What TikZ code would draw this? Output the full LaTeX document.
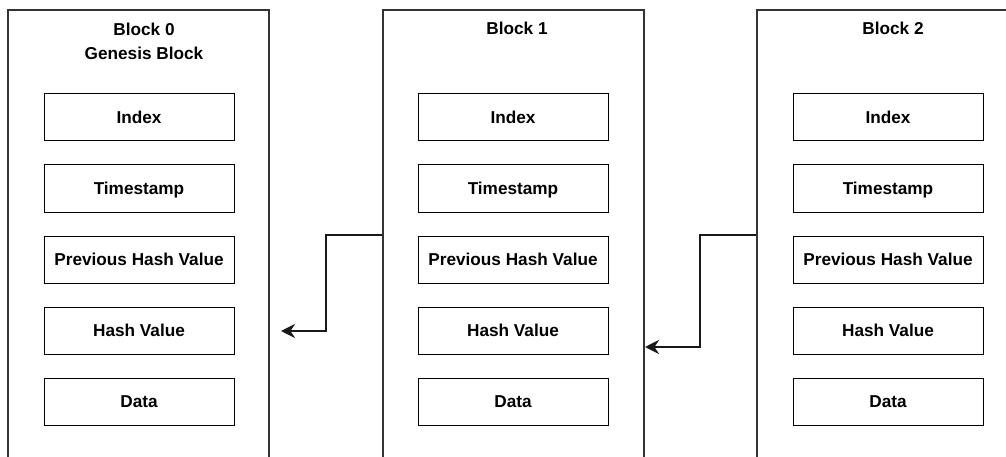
\documentclass[tikz,border=0pt]{standalone}
\usepackage{fontspec}
\setmainfont{Liberation Sans}
\usetikzlibrary{arrows.meta}

\tikzset{
    chainblock/.style={draw=black!80, line width=2pt, minimum width=261pt, minimum height=470pt, inner sep=0pt},
    blocktitle/.style={font=\bfseries\fontsize{17.2}{24}\selectfont, align=center, inner sep=0pt},
    field/.style={draw=black, line width=1pt, minimum width=190pt, minimum height=47pt, inner sep=0pt,
        font=\bfseries\fontsize{17.2}{20}\selectfont, text height=12pt, text depth=0pt},
    link/.style={draw=black!90, line width=2pt, -{Stealth[length=14pt,width=14pt,inset=4.5pt]}},
}

\begin{document}
\begin{tikzpicture}[x=1pt,y=-1pt]
    \clip (0,0) rectangle (1006,457);
    \fill[white] (0,0) rectangle (1006,457);
    \node[chainblock] (blk0) at (138.5,245) {};
    \node[chainblock] (blk1) at (513,245) {};
    \node[chainblock] (blk2) at (887.5,245) {};
    \node[blocktitle] (t0) at (144,41) {Block 0\\Genesis Block};
    \node[blocktitle] (t1) at (517,28.5) {Block 1};
    \node[blocktitle] (t2) at (893,28.5) {Block 2};
    \node[field] (b0idx) at (139,117.5) {Index};
    \node[field] (b0time) at (139,188.5) {Timestamp};
    \node[field] (b0prev) at (139,259.5) {Previous Hash Value};
    \node[field] (b0hash) at (139,330.5) {Hash Value};
    \node[field] (b0data) at (139,401.5) {Data};
    \node[field] (b1idx) at (513,117.5) {Index};
    \node[field] (b1time) at (513,188.5) {Timestamp};
    \node[field] (b1prev) at (513,259.5) {Previous Hash Value};
    \node[field] (b1hash) at (513,330.5) {Hash Value};
    \node[field] (b1data) at (513,401.5) {Data};
    \node[field] (b2idx) at (888,117.5) {Index};
    \node[field] (b2time) at (888,188.5) {Timestamp};
    \node[field] (b2prev) at (888,259.5) {Previous Hash Value};
    \node[field] (b2hash) at (888,330.5) {Hash Value};
    \node[field] (b2data) at (888,401.5) {Data};
    \coordinate (bend0) at (326,235);
    \coordinate (tip0) at (281,331);
    \draw[link] (blk1.west |- bend0) -- (bend0) |- (tip0);
    \coordinate (bend1) at (700,235);
    \coordinate (tip1) at (645,347);
    \draw[link] (blk2.west |- bend1) -- (bend1) |- (tip1);
\end{tikzpicture}
\end{document}
